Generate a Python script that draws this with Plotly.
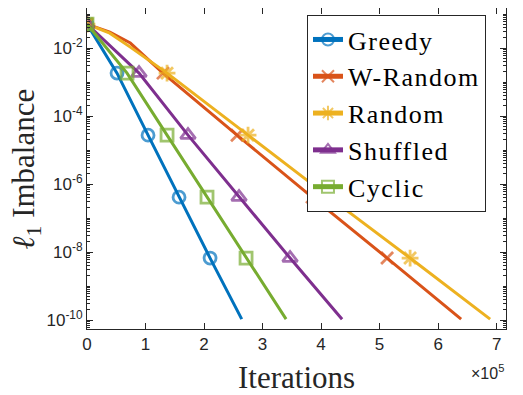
import plotly.graph_objects as go

# Datos (iteraciones y desequilibrio l1)
greedy_it = [0, 51300, 104300, 157300, 210300, 264400]
greedy_val = [5.1e-2, 1.84e-3, 2.76e-5, 4.15e-7, 6.7e-9, 1.07e-10]
greedy_mark = [0, 1, 2, 3, 4]

wrandom_it = [0, 39000, 74000, 129900, 256400, 384600, 512800, 639300]
wrandom_val = [5.1e-2, 2.95e-2, 1.41e-2, 1.84e-3, 2.76e-5, 4.15e-7, 6.7e-9, 1.07e-10]
wrandom_mark = [0, 3, 4, 5, 6]

random_it = [0, 39000, 74000, 136800, 275200, 413600, 552100, 688900]
random_val = [5.1e-2, 2.75e-2, 1.07e-2, 1.84e-3, 2.76e-5, 4.15e-7, 6.7e-9, 1.07e-10]
random_mark = [0, 3, 4, 5, 6]

shuffled_it = [0, 88900, 172600, 259800, 347000, 435900]
shuffled_val = [5.1e-2, 1.84e-3, 2.76e-5, 4.15e-7, 6.7e-9, 1.07e-10]
shuffled_mark = [0, 1, 2, 3, 4]

cyclic_it = [0, 68400, 136800, 205100, 271800, 340200]
cyclic_val = [5.1e-2, 1.84e-3, 2.76e-5, 4.15e-7, 6.7e-9, 1.07e-10]
cyclic_mark = [0, 1, 2, 3, 4]

series = [
    ("Greedy", greedy_it, greedy_val, greedy_mark, "#0072BD", "circle-open", 12),
    ("W-Random", wrandom_it, wrandom_val, wrandom_mark, "#D95319", "x-thin-open", 12),
    ("Random", random_it, random_val, random_mark, "#EDB120", "asterisk-open", 14),
    ("Shuffled", shuffled_it, shuffled_val, shuffled_mark, "#7E2F8E", "triangle-up-open", 13),
    ("Cyclic", cyclic_it, cyclic_val, cyclic_mark, "#77AC30", "square-open", 12),
]

SERIF = "Liberation Serif"
SANS = "Liberation Sans"

fig = go.Figure()

for nombre, xs, ys, marcas, color, simbolo, tam in series:
    tamanos = [tam if i in marcas else 0 for i in range(len(xs))]
    fig.add_trace(go.Scatter(
        x=xs,
        y=ys,
        mode='lines+markers',
        name=f'<span style="letter-spacing:1.5px">{nombre}</span>',
        line=dict(color=color, width=3),
        marker=dict(symbol=simbolo, size=tamanos, color=color,
                    line=dict(color=color, width=2.8)),
    ))

# Ticks menores del eje logaritmico
menores = []
for e in range(-11, 0):
    for k in range(1, 10):
        if k == 1 and e % 2 == 0:
            continue
        menores.append(k * 10.0 ** e)

fig.update_xaxes(
    range=[0, 716000],
    tickvals=[i * 100000 for i in range(8)],
    ticktext=[str(i) for i in range(8)],
    ticks="inside", ticklen=6, tickcolor="#262626",
    showline=True, linecolor="#262626", linewidth=1, mirror="ticks",
    showgrid=False, zeroline=False, automargin=False,
    tickfont=dict(family=SANS, size=17, color="#262626"),
)

fig.update_yaxes(
    type="log",
    range=[-10.26, -0.82],
    tickvals=[1e-10, 1e-8, 1e-6, 1e-4, 1e-2],
    ticktext=["10<sup>-10</sup>", "10<sup>-8</sup>", "10<sup>-6</sup>", "10<sup>-4</sup>", "10<sup>-2</sup>"],
    ticks="inside", ticklen=6, tickcolor="#262626",
    minor=dict(tickvals=menores, ticks="inside", ticklen=3, tickcolor="#262626"),
    showline=True, linecolor="#262626", linewidth=1, mirror="ticks",
    showgrid=False, zeroline=False, automargin=False,
    tickfont=dict(family=SANS, size=17, color="#262626"),
)

# Titulos de los ejes como anotaciones para controlar la posicion
fig.add_annotation(
    text="Iterations", xref="paper", yref="paper", x=0.499, y=-0.15,
    xanchor="center", yanchor="middle", showarrow=False,
    font=dict(family=SERIF, size=31, color="#262626"),
)
fig.add_annotation(
    text="<i>ℓ</i><sub>1</sub> Imbalance", xref="paper", yref="paper", x=-0.145, y=0.498,
    xanchor="center", yanchor="middle", showarrow=False, textangle=-90,
    font=dict(family=SERIF, size=31, color="#262626"),
)
fig.add_annotation(
    text="×10<sup>5</sup>", xref="paper", yref="paper", x=1.0, y=-0.134,
    xanchor="right", yanchor="middle", showarrow=False,
    font=dict(family=SANS, size=16, color="#262626"),
)

fig.update_layout(
    width=515, height=387,
    margin=dict(l=79, r=17, t=0, b=66),
    paper_bgcolor="white", plot_bgcolor="white",
    font=dict(family=SERIF, color="black"),
    legend=dict(x=0.525, y=0.978, xanchor="left", yanchor="top",
                bgcolor="white", bordercolor="#262626", borderwidth=1,
                itemsizing="constant", tracegroupgap=0,
                font=dict(family=SERIF, size=26, color="black")),
)

fig.write_html("out.html")
